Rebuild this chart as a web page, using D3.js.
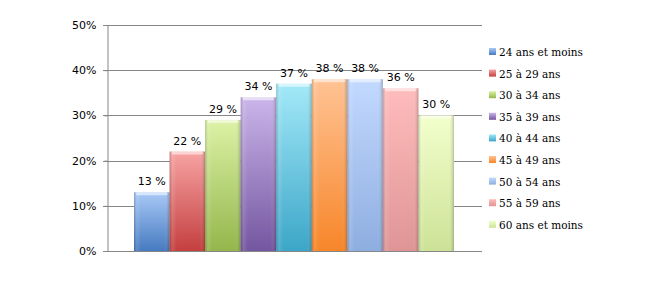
<!DOCTYPE html>
<html>
<head>
<meta charset="utf-8">
<script src="https://cdn.jsdelivr.net/npm/d3@7"></script>
<style>
  body { margin: 0; background: #fff; }
  svg { display: block; }
</style>
</head>
<body>
<svg id="chart"></svg>
<script>
// series names and values (%)
const groups = ["24 ans et moins", "25 à 29 ans", "30 à 34 ans", "35 à 39 ans", "40 à 44 ans",
                "45 à 49 ans", "50 à 54 ans", "55 à 59 ans", "60 ans et moins"];
const values = [13, 22, 29, 34, 37, 38, 38, 36, 30];
const yTicks = [0, 10, 20, 30, 40, 50];

// top / bottom gradient colours per series
const topColors = ["#a9c9f7", "#f7a3a3", "#dcf2a6", "#cbb5ea", "#a3e9f8", "#ffc394", "#c3d9ff", "#ffbcbc", "#f2ffcc"];
const botColors = ["#467ac0", "#c43f3f", "#94b64c", "#7456a0", "#3ca6c8", "#f7862a", "#8eaee0", "#df9595", "#cde297"];

const width = 651;
const height = 281;
const margin = { top: 25, right: 169, bottom: 30, left: 107 };

const svg = d3.select("#chart")
  .attr("width", width)
  .attr("height", height);

const defs = svg.append("defs");
groups.forEach((g, i) => {
  const lg = defs.append("linearGradient")
    .attr("id", "grad" + i)
    .attr("x1", 0).attr("y1", 0).attr("x2", 0).attr("y2", 1);
  lg.append("stop").attr("offset", "0%").attr("stop-color", topColors[i]);
  lg.append("stop").attr("offset", "100%").attr("stop-color", botColors[i]);
});
// bevel shading on the sides
const side = defs.append("linearGradient").attr("id", "side")
  .attr("x1", 0).attr("y1", 0).attr("x2", 1).attr("y2", 0);
side.append("stop").attr("offset", "0%").attr("stop-color", "#000").attr("stop-opacity", 0.18);
side.append("stop").attr("offset", "8%").attr("stop-color", "#fff").attr("stop-opacity", 0.12);
side.append("stop").attr("offset", "20%").attr("stop-color", "#fff").attr("stop-opacity", 0);
side.append("stop").attr("offset", "85%").attr("stop-color", "#fff").attr("stop-opacity", 0);
side.append("stop").attr("offset", "100%").attr("stop-color", "#000").attr("stop-opacity", 0.22);

const x0 = margin.left;
const x1 = width - margin.right;

const yScale = d3.scaleLinear()
  .domain([0, 50])
  .range([height - margin.bottom, margin.top]);

const xScale = d3.scaleBand()
  .domain(groups)
  .range([x0 + 27, x1 - 28])
  .padding(0);

// gridlines
svg.append("g")
  .selectAll("line")
  .data(yTicks)
  .join("line")
  .attr("x1", x0 - 4)
  .attr("x2", x1)
  .attr("y1", d => Math.round(yScale(d)) + 0.5)
  .attr("y2", d => Math.round(yScale(d)) + 0.5)
  .attr("stroke", "#868686")
  .attr("stroke-width", 1);

// y axis
const yAxis = svg.append("g")
  .attr("transform", `translate(${x0 + 0.5},0)`)
  .call(d3.axisLeft(yScale).tickValues(yTicks).tickSize(3).tickPadding(8).tickFormat(d => d + "%"));
yAxis.select(".domain").attr("stroke", "#868686");
yAxis.selectAll(".tick line").attr("stroke", "#868686");
yAxis.selectAll("text")
  .attr("font-family", "DejaVu Sans, sans-serif")
  .attr("font-size", 11)
  .attr("fill", "#000");

// bars
const bars = svg.append("g");
bars.selectAll("rect.bar")
  .data(values)
  .join("rect")
  .attr("class", "bar")
  .attr("x", (d, i) => xScale(groups[i]))
  .attr("y", d => yScale(d))
  .attr("width", xScale.bandwidth())
  .attr("height", d => yScale(0) - yScale(d))
  .attr("fill", (d, i) => `url(#grad${i})`);

bars.selectAll("rect.side")
  .data(values)
  .join("rect")
  .attr("class", "side")
  .attr("x", (d, i) => xScale(groups[i]))
  .attr("y", d => yScale(d))
  .attr("width", xScale.bandwidth())
  .attr("height", d => yScale(0) - yScale(d))
  .attr("fill", "url(#side)");

// top highlight
bars.selectAll("rect.hl")
  .data(values)
  .join("rect")
  .attr("class", "hl")
  .attr("x", (d, i) => xScale(groups[i]) + 2)
  .attr("y", d => yScale(d))
  .attr("width", xScale.bandwidth() - 4)
  .attr("height", 3)
  .attr("rx", 1.5)
  .attr("fill", "#fff")
  .attr("opacity", 0.55);

// data labels
svg.append("g")
  .selectAll("text")
  .data(values)
  .join("text")
  .attr("x", (d, i) => xScale(groups[i]) + xScale.bandwidth() / 2)
  .attr("y", d => yScale(d) - 7)
  .attr("text-anchor", "middle")
  .attr("font-family", "DejaVu Sans, sans-serif")
  .attr("font-size", 11)
  .attr("fill", "#000")
  .text(d => d + " %");

// legend
const legend = svg.append("g")
  .attr("transform", `translate(489, 52)`);
const item = legend.selectAll("g")
  .data(groups)
  .join("g")
  .attr("transform", (d, i) => `translate(0, ${i * 21.6})`);
item.append("rect")
  .attr("x", 0)
  .attr("y", -4)
  .attr("width", 7)
  .attr("height", 7)
  .attr("fill", (d, i) => `url(#grad${i})`);
item.append("text")
  .attr("x", 10)
  .attr("y", 4)
  .attr("font-family", "DejaVu Serif, serif")
  .attr("font-size", 10.5)
  .attr("fill", "#000")
  .text(d => d);
</script>
</body>
</html>
